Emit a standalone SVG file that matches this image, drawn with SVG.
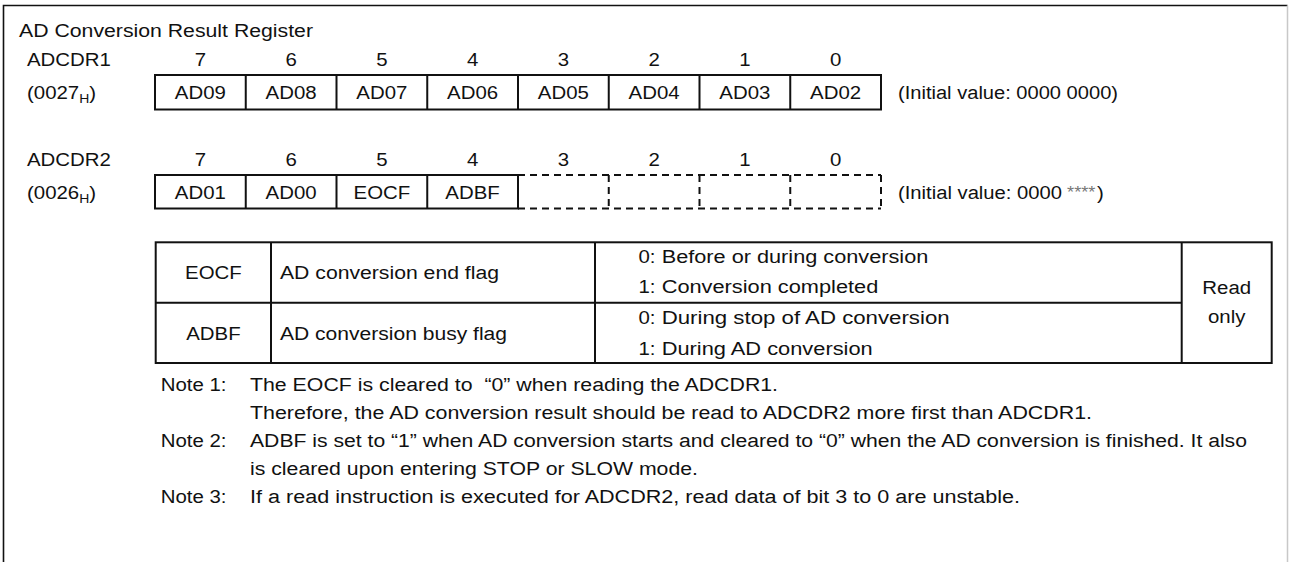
<svg xmlns="http://www.w3.org/2000/svg" width="1289" height="562" viewBox="0 0 1289 562">
<style>
text{font-family:"Liberation Sans",Arial,sans-serif;font-size:19px;fill:#111}
.c{text-anchor:middle}
.sub{font-size:13px}
.cell{fill:#fff;stroke:#111;stroke-width:2}
.ln{stroke:#111;stroke-width:2;fill:none}
.dash{stroke:#111;stroke-width:2;fill:none;stroke-dasharray:7 5}
.ast{fill:#777;font-size:17px}
</style>
<rect width="1289" height="562" fill="#fff"/>
<g id="frame">
<path d="M3.5,562 V5.5 H1287.5" fill="none" stroke="#111" stroke-width="1.6"/>
<line x1="1287.5" y1="5.5" x2="1287.5" y2="562" stroke="#c8c8c8" stroke-width="1.5"/>
</g>
<g id="adcdr1-cells">
<rect class="cell" x="155" y="75" width="726" height="34.5"/>
<path class="ln" d="M245.75,75 V109.5 M336.5,75 V109.5 M427.25,75 V109.5 M518,75 V109.5 M608.75,75 V109.5 M699.5,75 V109.5 M790.25,75 V109.5"/>
</g>
<g id="adcdr2-cells">
<rect class="cell" x="155" y="175" width="363" height="33.5"/>
<path class="ln" d="M245.75,175 V208.5 M336.5,175 V208.5 M427.25,175 V208.5"/>
<path class="dash" d="M518,175 H881 M518,208.5 H881 M608.75,175 V208.5 M699.5,175 V208.5 M790.25,175 V208.5 M881,175 V208.5"/>
</g>
<g id="flag-table">
<rect class="ln" x="155.7" y="242.3" width="1116" height="120.7"/>
<path class="ln" d="M155.7,302.7 H1181.7 M271,242.3 V363 M595,242.3 V363 M1181.7,242.3 V363"/>
</g>
<g id="texts" transform="scale(1.075,1)">
<text id="title" x="17.67" y="37" textLength="273.5" lengthAdjust="spacingAndGlyphs">AD Conversion Result Register</text>
<g id="adcdr1">
<text x="25.12" y="66">ADCDR1</text>
<text x="25.12" y="99">(0027<tspan class="sub" dy="4">H</tspan><tspan dy="-4">)</tspan></text>
<g class="c">
<text x="186.42" y="66">7</text><text x="270.79" y="66">6</text><text x="355.26" y="66">5</text><text x="439.63" y="66">4</text>
<text x="524.09" y="66">3</text><text x="608.47" y="66">2</text><text x="692.93" y="66">1</text><text x="777.3" y="66">0</text>
<text x="186.42" y="99">AD09</text><text x="270.79" y="99">AD08</text><text x="355.26" y="99">AD07</text><text x="439.63" y="99">AD06</text>
<text x="524.09" y="99">AD05</text><text x="608.47" y="99">AD04</text><text x="692.93" y="99">AD03</text><text x="777.3" y="99">AD02</text>
</g>
<text x="835.35" y="99" textLength="204.65" lengthAdjust="spacingAndGlyphs">(Initial value: 0000 0000)</text>
</g>
<g id="adcdr2">
<text x="25.12" y="166">ADCDR2</text>
<text x="25.12" y="199">(0026<tspan class="sub" dy="4">H</tspan><tspan dy="-4">)</tspan></text>
<g class="c">
<text x="186.42" y="166">7</text><text x="270.79" y="166">6</text><text x="355.26" y="166">5</text><text x="439.63" y="166">4</text>
<text x="524.09" y="166">3</text><text x="608.47" y="166">2</text><text x="692.93" y="166">1</text><text x="777.3" y="166">0</text>
<text x="186.42" y="199">AD01</text><text x="270.79" y="199">AD00</text><text x="355.26" y="199">EOCF</text><text x="439.63" y="199">ADBF</text>
</g>
<text x="835.35" y="199" textLength="152.6" lengthAdjust="spacingAndGlyphs">(Initial value: 0000</text>
<text class="ast" x="992.6" y="198">****</text>
<text x="1020.5" y="199">)</text>
</g>
<g id="table-text">
<text class="c" x="198.5" y="279">EOCF</text>
<text x="260.47" y="279" textLength="203.7" lengthAdjust="spacingAndGlyphs">AD conversion end flag</text>
<text x="593.95" y="263">0:</text><text x="615.53" y="263" textLength="248" lengthAdjust="spacingAndGlyphs">Before or during conversion</text>
<text x="593.95" y="293">1:</text><text x="615.53" y="293" textLength="201.5" lengthAdjust="spacingAndGlyphs">Conversion completed</text>
<text class="c" x="198.5" y="340">ADBF</text>
<text x="260.47" y="340" textLength="211.2" lengthAdjust="spacingAndGlyphs">AD conversion busy flag</text>
<text x="593.95" y="324">0:</text><text x="615.53" y="324" textLength="267.9" lengthAdjust="spacingAndGlyphs">During stop of AD conversion</text>
<text x="593.95" y="355">1:</text><text x="615.53" y="355" textLength="196.3" lengthAdjust="spacingAndGlyphs">During AD conversion</text>
<text class="c" x="1141.1" y="294">Read</text>
<text class="c" x="1141.1" y="323">only</text>
</g>
<g id="notes">
<text x="149.5" y="391">Note 1:</text>
<text x="232.56" y="391" xml:space="preserve" textLength="491.2" lengthAdjust="spacingAndGlyphs">The EOCF is cleared to  “0” when reading the ADCDR1.</text>
<text x="232.56" y="419" textLength="783.3" lengthAdjust="spacingAndGlyphs">Therefore, the AD conversion result should be read to ADCDR2 more first than ADCDR1.</text>
<text x="149.5" y="447">Note 2:</text>
<text x="232.56" y="447" textLength="927.4" lengthAdjust="spacingAndGlyphs">ADBF is set to “1” when AD conversion starts and cleared to “0” when the AD conversion is finished. It also</text>
<text x="232.56" y="475" textLength="416.7" lengthAdjust="spacingAndGlyphs">is cleared upon entering STOP or SLOW mode.</text>
<text x="149.5" y="503">Note 3:</text>
<text x="232.56" y="503" textLength="716.3" lengthAdjust="spacingAndGlyphs">If a read instruction is executed for ADCDR2, read data of bit 3 to 0 are unstable.</text>
</g>
</g>
</svg>
